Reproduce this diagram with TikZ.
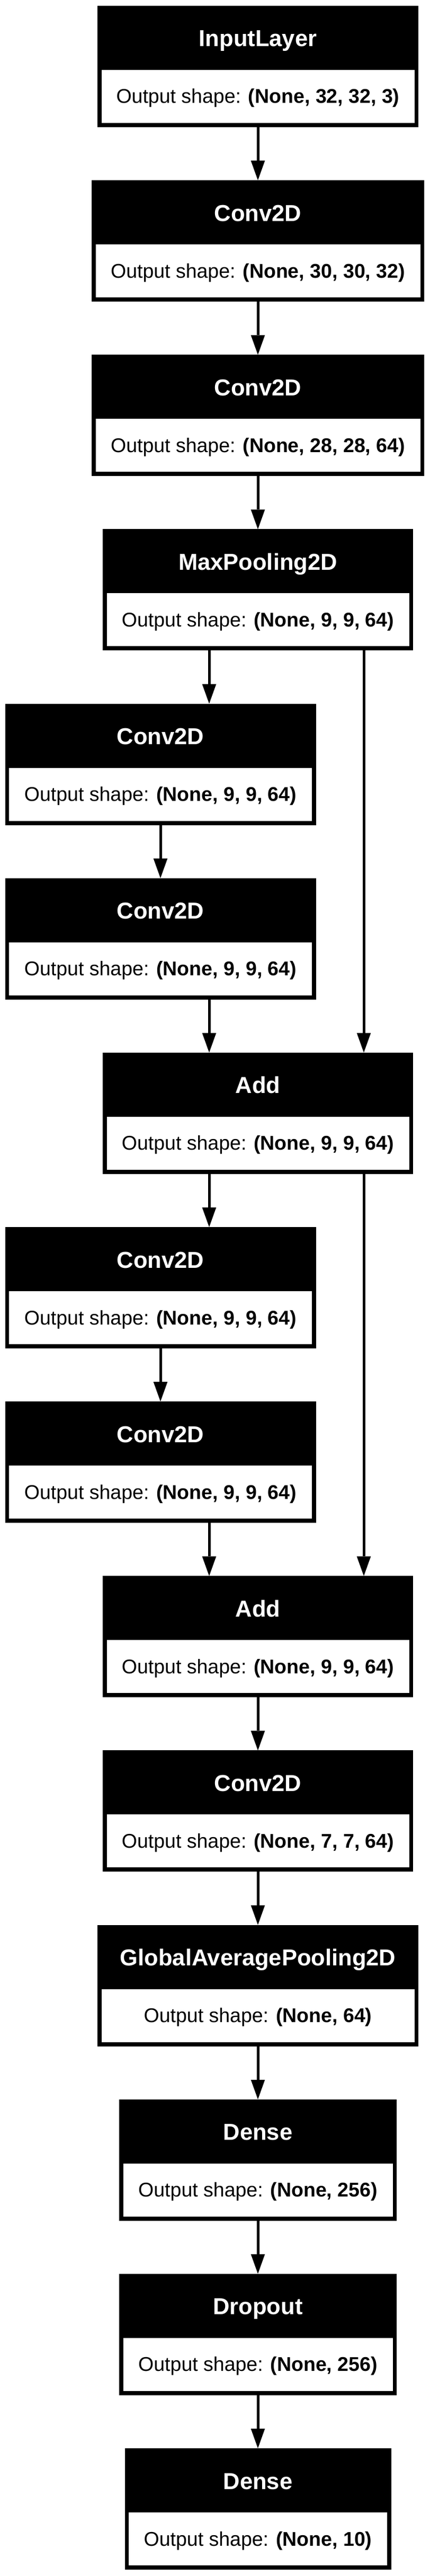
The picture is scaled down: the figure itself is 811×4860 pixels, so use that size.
\documentclass[tikz,border=0pt]{standalone}
\usepackage{fontspec}
\setmainfont{Liberation Sans}
\usetikzlibrary{arrows.meta,calc}
\tikzset{
  layerbox/.style={rectangle, fill=black, draw=none, inner sep=0pt, outer sep=0pt, minimum height=229pt},
  hdr/.style={anchor=base, inner sep=0pt, outer sep=0pt, text=white, font=\fontsize{43.5}{52}\selectfont\bfseries},
  bdy/.style={anchor=base, inner sep=0pt, outer sep=0pt, text=black, font=\fontsize{37.5}{45}\selectfont},
  arr/.style={line width=5pt, -{Triangle[length=37pt,width=26.6pt,line width=0pt]}},
}
% name, x centre, top y, width, header, shape
\newcommand\kerasLayer[6]{%
  \node[layerbox, minimum width=#4pt, anchor=north] (#1) at (#2,#3) {};
  \fill[white] ($(#1.north west)+(7.5,121)$) rectangle ($(#1.south east)+(-7.5,-8)$);
  \node[hdr] (#1-h) at ($(#1.north)+(0,77)$) {#5};
  \node[bdy] (#1-b) at ($(#1.north)+(0,184)$) {Output shape: \textbf{#6}};
}
\begin{document}
\begin{tikzpicture}[x=1pt,y=-1pt]
\useasboundingbox (0,0) rectangle (811,4860);
\fill[white] (0,0) rectangle (811,4860);
\coordinate (lx) at (395,0);
\coordinate (rx) at (687,0);

\kerasLayer{inp}{487}{11}{606}{InputLayer}{(None, 32, 32, 3)}
\kerasLayer{c1}{487}{340.1}{628}{Conv2D}{(None, 30, 30, 32)}
\kerasLayer{c2}{487}{669.3}{628}{Conv2D}{(None, 28, 28, 64)}
\kerasLayer{mp}{487}{998.4}{586}{MaxPooling2D}{(None, 9, 9, 64)}
\kerasLayer{ca}{303}{1327.6}{587}{Conv2D}{(None, 9, 9, 64)}
\kerasLayer{cb}{303}{1656.7}{587}{Conv2D}{(None, 9, 9, 64)}
\kerasLayer{add1}{487}{1985.8}{586}{Add}{(None, 9, 9, 64)}
\kerasLayer{cc}{303}{2315}{587}{Conv2D}{(None, 9, 9, 64)}
\kerasLayer{cd}{303}{2644.1}{587}{Conv2D}{(None, 9, 9, 64)}
\kerasLayer{add2}{487}{2973.3}{586}{Add}{(None, 9, 9, 64)}
\kerasLayer{c3}{487}{3302.4}{586}{Conv2D}{(None, 7, 7, 64)}
\kerasLayer{gap}{487}{3631.5}{606}{GlobalAveragePooling2D}{(None, 64)}
\kerasLayer{d1}{487}{3960.7}{524}{Dense}{(None, 256)}
\kerasLayer{drop}{487}{4289.8}{524}{Dropout}{(None, 256)}
\kerasLayer{d2}{487}{4619}{503}{Dense}{(None, 10)}

\draw[arr] (inp.south) -- (c1.north);
\draw[arr] (c1.south) -- (c2.north);
\draw[arr] (c2.south) -- (mp.north);
\draw[arr] (mp.south -| lx) -- (ca.north -| lx);
\draw[arr] (mp.south -| rx) -- (add1.north -| rx);
\draw[arr] (ca.south) -- (cb.north);
\draw[arr] (cb.south -| lx) -- (add1.north -| lx);
\draw[arr] (add1.south -| lx) -- (cc.north -| lx);
\draw[arr] (add1.south -| rx) -- (add2.north -| rx);
\draw[arr] (cc.south) -- (cd.north);
\draw[arr] (cd.south -| lx) -- (add2.north -| lx);
\draw[arr] (add2.south) -- (c3.north);
\draw[arr] (c3.south) -- (gap.north);
\draw[arr] (gap.south) -- (d1.north);
\draw[arr] (d1.south) -- (drop.north);
\draw[arr] (drop.south) -- (d2.north);
\end{tikzpicture}
\end{document}
